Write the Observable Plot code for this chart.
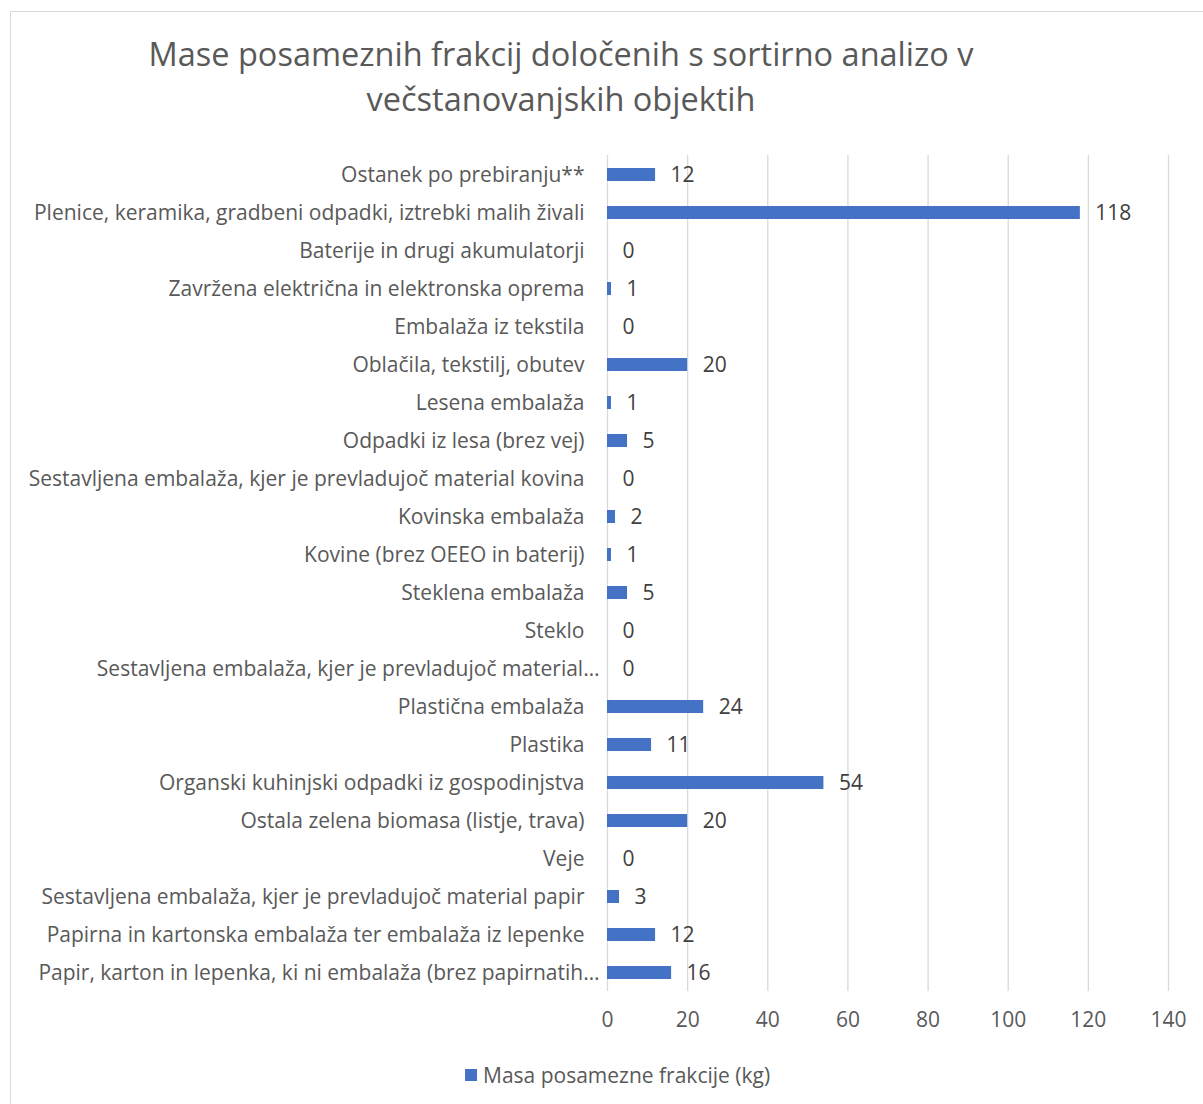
<!DOCTYPE html>
<html>
<head>
<meta charset="utf-8">
<script src="https://cdn.jsdelivr.net/npm/d3@7"></script>
<script src="https://cdn.jsdelivr.net/npm/@observablehq/plot@0.6"></script>
<style>
  html, body { margin: 0; padding: 0; background: #fff; }
  body { width: 1203px; height: 1104px; position: relative; overflow: hidden; font-family: "Open Sans", "Noto Sans", sans-serif; }
  #frame { position: absolute; left: 10px; top: 11px; width: 1200px; height: 1100px; border: 1px solid #d9d9d9; box-sizing: border-box; }
  #title { position: absolute; left: 0; width: 1122px; top: 31px; text-align: center; font-size: 32.5px; line-height: 45px; color: #595959; }
  #chart { position: absolute; left: 0; top: 140px; }
  #legend { position: absolute; top: 1061px; left: 465px; font-size: 21px; color: #595959; display: flex; align-items: center; }
  #legend .sw { width: 12px; height: 12px; background: #4472C4; margin-right: 6px; }
</style>
</head>
<body>
<div id="frame"></div>
<div id="title">Mase posameznih frakcij določenih s sortirno analizo v<br>večstanovanjskih objektih</div>
<div id="chart"></div>
<div id="legend"><span class="sw"></span><span id="legendText"></span></div>
<script>
const categories = [
  "Ostanek po prebiranju**",
  "Plenice, keramika, gradbeni odpadki, iztrebki malih živali",
  "Baterije in drugi akumulatorji",
  "Zavržena električna in elektronska oprema",
  "Embalaža iz tekstila",
  "Oblačila, tekstilj, obutev",
  "Lesena embalaža",
  "Odpadki iz lesa (brez vej)",
  "Sestavljena embalaža, kjer je prevladujoč material kovina",
  "Kovinska embalaža",
  "Kovine (brez OEEO in baterij)",
  "Steklena embalaža",
  "Steklo",
  "Sestavljena embalaža, kjer je prevladujoč material…",
  "Plastična embalaža",
  "Plastika",
  "Organski kuhinjski odpadki iz gospodinjstva",
  "Ostala zelena biomasa (listje, trava)",
  "Veje",
  "Sestavljena embalaža, kjer je prevladujoč material papir",
  "Papirna in kartonska embalaža ter embalaža iz lepenke",
  "Papir, karton in lepenka, ki ni embalaža (brez papirnatih…"
];
const masses = [12, 118, 0, 1, 0, 20, 1, 5, 0, 2, 1, 5, 0, 0, 24, 11, 54, 20, 0, 3, 12, 16];
const xTicks = [0, 20, 40, 60, 80, 100, 120, 140];
const seriesName = "Masa posamezne frakcije (kg)";

const data = categories.map((c, i) => ({category: c, value: masses[i]}));
const fullLabels = categories.filter(c => !c.endsWith("…"));
const cutLabels = categories.filter(c => c.endsWith("…"));

const chart = Plot.plot({
  width: 1203,
  height: 910,
  marginTop: 15,
  marginBottom: 59,
  marginLeft: 607,
  marginRight: 35,
  style: {fontFamily: "'Open Sans', 'Noto Sans', sans-serif", fontSize: "21px", color: "#595959", background: "transparent"},
  x: {domain: [0, 140]},
  y: {domain: categories, paddingInner: 0.66, paddingOuter: 0.33},
  marks: [
    Plot.gridX(xTicks, {stroke: "#d9d9d9", strokeOpacity: 1, strokeWidth: 1.3}),
    Plot.barX(data, {x: "value", y: "category", fill: "#4472C4"}),
    Plot.text(data, {x: "value", y: "category", text: d => String(d.value), dx: 15, textAnchor: "start", fill: "#404040", fontSize: 21}),
    Plot.axisX({ticks: xTicks, tickSize: 0, tickPadding: 21, fontSize: 21, label: null}),
    Plot.axisY(fullLabels, {tickSize: 0, tickPadding: 23, fontSize: 21, label: null}),
    Plot.axisY(cutLabels, {tickSize: 0, tickPadding: 8, fontSize: 21, label: null})
  ]
});
document.getElementById("chart").appendChild(chart);
document.getElementById("legendText").textContent = seriesName;
</script>
</body>
</html>
